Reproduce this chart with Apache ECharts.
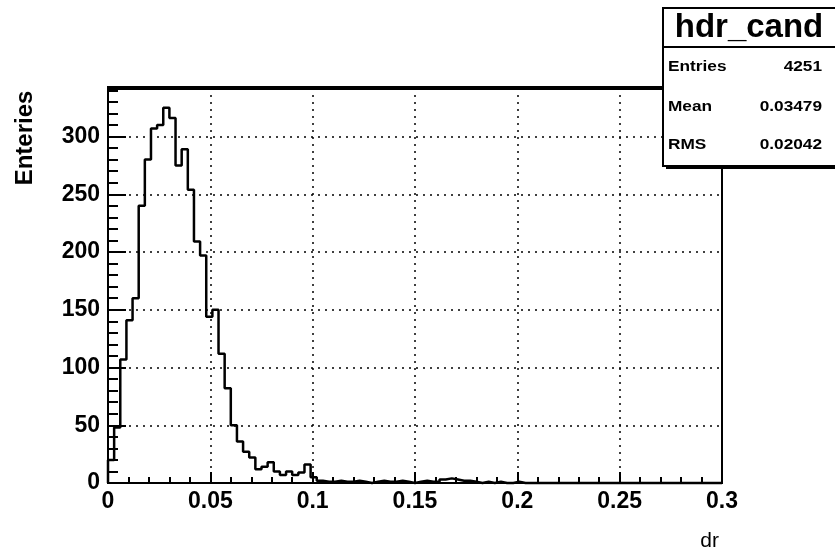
<!DOCTYPE html>
<html>
<head>
<meta charset="utf-8">
<script src="https://cdn.jsdelivr.net/npm/echarts@6/dist/echarts.min.js"></script>
<style>
html,body{margin:0;padding:0;background:#fff;}
#chart{width:835px;height:552px;}
</style>
</head>
<body>
<div id="chart"></div>
<script>
// ---- data ----
const xMin = 0;
const xMax = 0.3;
const nBins = 100;
const counts = [
  20, 48, 107, 141, 160, 240, 280, 307, 310, 325,
  316, 275, 289, 254, 209, 197, 144, 150, 112, 82,
  50, 36, 27, 22, 12, 14, 18, 10, 7, 10,
  7, 9, 16, 5, 2, 1, 1, 2, 1, 1,
  2, 1, 0, 1, 2, 1, 1, 2, 1, 0,
  1, 2, 1, 1, 3, 4, 3, 2, 2, 1,
  0, 1, 0, 1, 0, 0, 1, 0, 0, 0,
  0, 0, 0, 0, 0, 0, 0, 0, 0, 0,
  0, 0, 0, 0, 0, 0, 0, 0, 0, 0,
  0, 0, 0, 0, 0, 0, 0, 0, 0, 0
];
const xTicks = ['0', '0.05', '0.1', '0.15', '0.2', '0.25', '0.3'];
const yTicks = ['0', '50', '100', '150', '200', '250', '300'];
const histName = 'hdr_cand';
const statLabels = ['Entries', 'Mean', 'RMS'];
const statValues = ['4251', '0.03479', '0.02042'];
const xTitle = 'dr';
const yTitle = 'Enteries';

// ---- build step outline ----
const binW = (xMax - xMin) / nBins;
const stepPts = [[xMin, 0]];
counts.forEach((c, i) => {
  const lo = xMin + i * binW, hi = lo + binW;
  stepPts.push([lo, c]);
  stepPts.push([hi, c]);
});
stepPts.push([xMax, 0]);

const FONT = '"Liberation Sans", Arial, Helvetica, sans-serif';
const chart = echarts.init(document.getElementById('chart'), null, {renderer: 'canvas'});

const statGraphics = [];
const rowY = [67, 107, 145];
statLabels.forEach((lab, i) => {
  statGraphics.push({
    type: 'text', x: 668, y: rowY[i], scaleX: 1.15, z: 102,
    style: {text: lab, font: 'bold 15px ' + FONT, fill: '#000', align: 'left', verticalAlign: 'middle'}
  });
  statGraphics.push({
    type: 'text', x: 822, y: rowY[i], scaleX: 1.15, z: 102,
    style: {text: statValues[i], font: 'bold 15px ' + FONT, fill: '#000', align: 'right', verticalAlign: 'middle'}
  });
});

chart.setOption({
  animation: false,
  backgroundColor: '#fff',
  grid: {left: 108, right: 113, top: 88, bottom: 69, show: true, borderColor: '#000', borderWidth: 2, containLabel: false},
  xAxis: {
    type: 'value', min: xMin, max: xMax, interval: 0.05,
    axisLine: {show: true, lineStyle: {color: '#000', width: 2}},
    axisTick: {show: true, inside: true, length: 11, lineStyle: {color: '#000', width: 2}},
    minorTick: {show: true, splitNumber: 5, length: 6, lineStyle: {color: '#000', width: 2}},
    splitLine: {show: true, lineStyle: {color: '#000', width: 1.5, type: [2, 5]}},
    axisLabel: {
      color: '#000', fontSize: 23, fontWeight: 'bold', fontFamily: FONT, margin: 7,
      formatter: v => xTicks[Math.round(v / 0.05)] || ''
    }
  },
  yAxis: {
    type: 'value', min: 0, max: 342, interval: 50,
    axisLine: {show: true, lineStyle: {color: '#000', width: 2}},
    axisTick: {show: true, inside: true, length: 18, lineStyle: {color: '#000', width: 2}},
    minorTick: {show: true, splitNumber: 5, length: 10, lineStyle: {color: '#000', width: 2}},
    splitLine: {show: true, lineStyle: {color: '#000', width: 1.5, type: [2, 5]}},
    axisLabel: {
      color: '#000', fontSize: 23, fontWeight: 'bold', fontFamily: FONT, margin: 8,
      showMaxLabel: false,
      formatter: v => (v % 50 === 0 ? yTicks[v / 50] : '')
    }
  },
  series: [{
    type: 'line', data: stepPts, symbol: 'none', clip: false,
    lineStyle: {color: '#000', width: 2.5}, z: 5
  }],
  graphic: [
    // thick top frame edge
    {type: 'line', shape: {x1: 107, y1: 88, x2: 723, y2: 88}, style: {stroke: '#000', lineWidth: 4}, z: 50},
    // stats box shadow + box
    {type: 'rect', shape: {x: 666, y: 11, width: 180, height: 158}, style: {fill: '#000'}, z: 100},
    {type: 'rect', shape: {x: 663, y: 8, width: 180, height: 158}, style: {fill: '#fff', stroke: '#000', lineWidth: 2}, z: 101},
    {type: 'line', shape: {x1: 663, y1: 47, x2: 835, y2: 47}, style: {stroke: '#000', lineWidth: 2}, z: 102},
    {type: 'text', x: 749, y: 28, z: 102,
      style: {text: histName, font: 'bold 33px ' + FONT, fill: '#000', align: 'center', verticalAlign: 'middle'}},
    ...statGraphics,
    // axis titles
    {type: 'text', x: 719, y: 541, z: 60,
      style: {text: xTitle, font: '21px ' + FONT, fill: '#000', align: 'right', verticalAlign: 'middle'}},
    {type: 'text', x: 25, y: 138, rotation: Math.PI / 2, z: 60,
      style: {text: yTitle, font: 'bold 24px ' + FONT, fill: '#000', align: 'center', verticalAlign: 'middle'}}
  ]
});
</script>
</body>
</html>
